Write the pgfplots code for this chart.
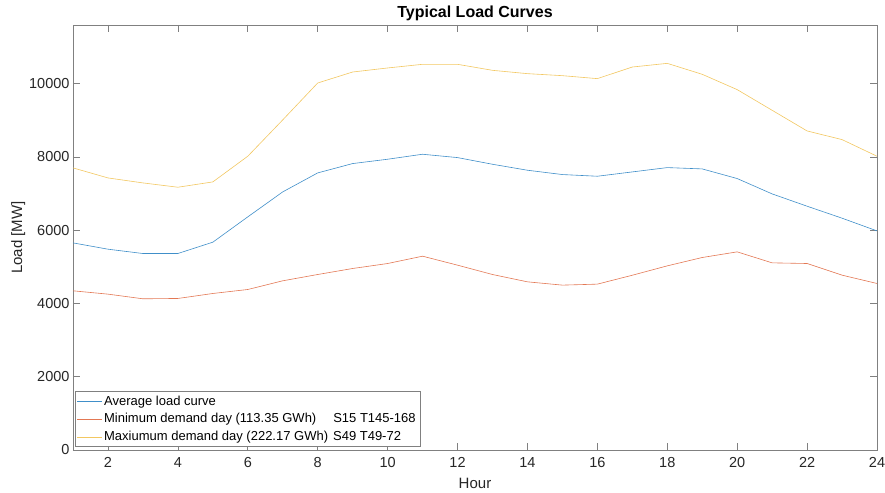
\documentclass[border=0pt]{standalone}
\usepackage{pgfplots}
\pgfplotsset{compat=1.18}
\usepackage{pgfplotstable}
\usepackage{fontspec}
\setmainfont{Liberation Sans}

\definecolor{lnblue}{rgb}{0.25,0.56,0.79}
\definecolor{lnorange}{rgb}{0.89,0.47,0.33}
\definecolor{lnyellow}{rgb}{0.95,0.78,0.38}
\definecolor{axgray}{rgb}{0.5,0.5,0.5}
\definecolor{txtgray}{rgb}{0.15,0.15,0.15}

% hourly load, MW
\pgfplotstableread{
hour avg    min   max
1    5653   4345  7700
2    5481   4254  7426
3    5363   4127  7290
4    5363   4136  7172
5    5672   4272  7317
6    6363   4381  8018
7    7045   4618  9010
8    7563   4790  10017
9    7818   4954  10317
10   7936   5090  10427
11   8072   5290  10527
12   7981   5045  10527
13   7799   4790  10363
14   7636   4590  10272
15   7518   4500  10217
16   7472   4527  10136
17   7590   4770  10453
18   7708   5026  10553
19   7672   5254  10254
20   7409   5408  9836
21   6990   5108  9272
22   6654   5090  8708
23   6327   4772  8472
24   5980   4545  8018
}\loads

\begin{document}
\begin{tikzpicture}
\begin{axis}[
  scale only axis,
  width=804pt, height=425pt,
  xmin=1, xmax=24, ymin=0, ymax=11600,
  xtick={2,4,...,24},
  ytick={0,2000,...,10000},
  scaled ticks=false,
  /pgf/number format/set thousands separator={},
  /pgf/number format/assume math mode=true,
  tick align=inside,
  major tick length=7pt,
  axis line style={axgray, line width=0.6pt},
  tick style={axgray, line width=0.6pt},
  ticklabel style={font=\fontsize{14.5}{17}\selectfont, text=txtgray},
  xticklabel style={yshift=-4pt},
  label style={font=\fontsize{15}{18}\selectfont, text=txtgray},
  xlabel={Hour},
  xlabel style={yshift=-4pt},
  ylabel={Load [MW]},
  ylabel style={yshift=-3pt},
  title={\textbf{Typical Load Curves}},
  title style={font=\fontsize{16}{18}\selectfont, at={(0.5,1)}, anchor=south, yshift=-5pt},
  legend style={at={(0.002,0.008)}, anchor=south west, draw=axgray,
    font=\fontsize{13}{15}\selectfont, inner sep=2pt,
    row sep=3pt, legend cell align=left},
  legend image post style={xscale=1.45},
  every axis plot/.append style={line width=0.6pt},
]
\addplot[lnblue] table[x=hour, y=avg] {\loads};
\addlegendentry{Average load curve}
\addplot[lnorange] table[x=hour, y=min] {\loads};
\addlegendentry{Minimum demand day (113.35 GWh)\hspace{17pt}S15 T145-168}
\addplot[lnyellow] table[x=hour, y=max] {\loads};
\addlegendentry{Maxiumum demand day (222.17 GWh)\hspace{5pt}S49 T49-72}
\end{axis}
\pgfresetboundingbox
\path[use as bounding box] ([xshift=-73pt,yshift=-42pt]current axis.south west)
  rectangle ([xshift=8pt,yshift=25pt]current axis.north east);
\end{tikzpicture}
\end{document}
